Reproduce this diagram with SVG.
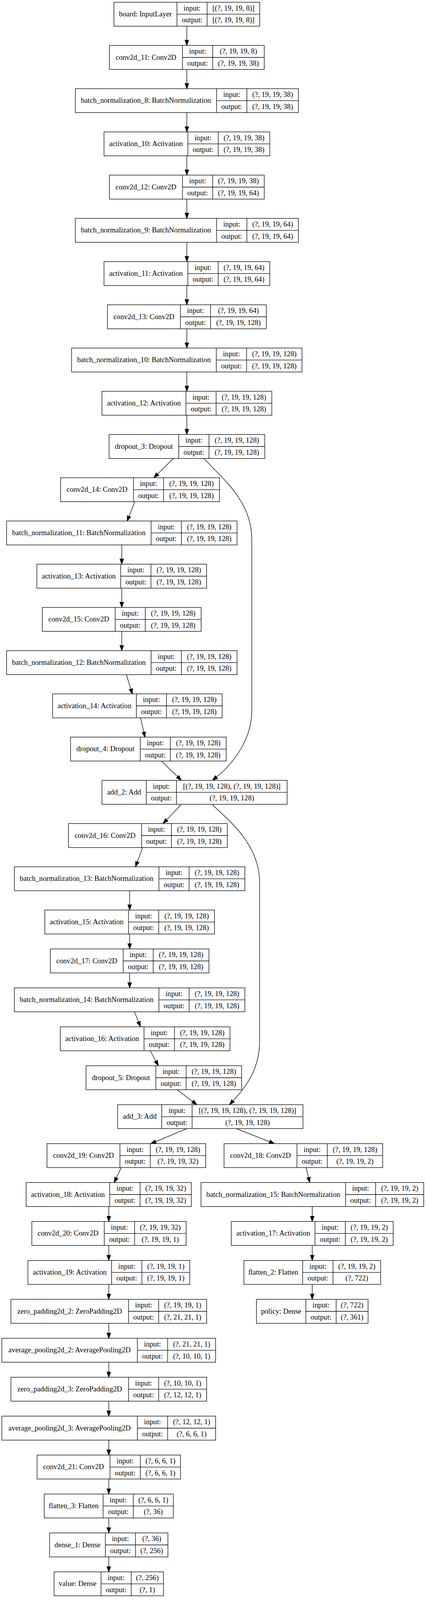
<svg xmlns="http://www.w3.org/2000/svg" width="1091" height="4279" viewBox="0 0 1091 4279">
<defs>
<style>
.b{fill:#fff;stroke:#000;stroke-width:1.33}
.l{stroke:#000;stroke-width:1.33;fill:none}
text{font-family:"Liberation Serif","Times New Roman",serif;font-size:18.67px;text-anchor:middle;fill:#000}
.e{fill:none;stroke:#000;stroke-width:1.33;marker-end:url(#ah)}
</style>
<marker id="ah" markerUnits="userSpaceOnUse" markerWidth="14" markerHeight="10" refX="0" refY="4.67" orient="auto" overflow="visible"><path d="M0,0 L13.33,4.67 L0,9.33 z" fill="#000" stroke="#000" stroke-width="1.33"/></marker>
</defs>
<rect x="0" y="0" width="1091" height="4279" fill="#fff"/>
<g id="connectors">
<path class="e" d="M478.5,67 L478.5,103"/>
<path class="e" d="M478.5,177.67 L478.5,213.67"/>
<path class="e" d="M478.5,288.33 L478.5,324.33"/>
<path class="e" d="M478.5,399 L478.5,435"/>
<path class="e" d="M478.5,509.67 L478.5,545.67"/>
<path class="e" d="M478.5,620.33 L478.5,656.33"/>
<path class="e" d="M478.5,731 L478.5,767"/>
<path class="e" d="M478.5,841.67 L478.5,877.67"/>
<path class="e" d="M478.5,952.33 L478.5,988.33"/>
<path class="e" d="M478.5,1063 L478.5,1099"/>
<path class="e" d="M443.8,1173.67 L403.5,1213.6"/>
<path class="e" d="M345.1,1284.33 L330.4,1321.9"/>
<path class="e" d="M311.8,1395 L311.8,1431"/>
<path class="e" d="M311.8,1505.67 L311.8,1541.67"/>
<path class="e" d="M311.8,1616.33 L311.8,1652.33"/>
<path class="e" d="M323.6,1727 L335,1764"/>
<path class="e" d="M360,1837.67 L368.25,1874.3"/>
<path class="e" d="M413.5,1948.33 L454.95,1988.4"/>
<path class="e" d="M522.5,1173.67 C565,1222 644.8,1280 644.8,1380 L644.8,1820 C644.8,1890 601,1951.6 554.4,1989.3"/>
<path class="e" d="M464.5,2059 L426.7,2098.65"/>
<path class="e" d="M365.2,2169.67 L351.6,2206.5"/>
<path class="e" d="M332,2280.33 L332,2316.33"/>
<path class="e" d="M332,2391 L332,2416"/>
<path class="e" d="M332,2490.67 L332,2515.67"/>
<path class="e" d="M344.3,2590.33 L354.87,2616.32"/>
<path class="e" d="M385,2690 L399.14,2716.56"/>
<path class="e" d="M453.8,2789.67 L493.4,2819.91"/>
<path class="e" d="M543,2059 C585,2100 664.9,2160 664.9,2260 L664.9,2665 C664.9,2735 631.1,2781.9 596.8,2818.3"/>
<path class="e" d="M478.6,2889.33 L398.51,2922.56"/>
<path class="e" d="M605.8,2889.33 L690.5,2922.78"/>
<path class="e" d="M310.5,2989 L298.09,3015.28"/>
<path class="e" d="M783.9,2989 L790.12,3014.38"/>
<path class="e" d="M278.6,3088.67 L278.6,3113.67"/>
<path class="e" d="M799.6,3088.67 L799.6,3113.67"/>
<path class="e" d="M278.6,3188.33 L278.6,3213.33"/>
<path class="e" d="M799.6,3188.33 L799.6,3213.33"/>
<path class="e" d="M278.6,3288 L278.6,3313"/>
<path class="e" d="M799.6,3288 L799.6,3313"/>
<path class="e" d="M278.6,3387.67 L278.6,3412.67"/>
<path class="e" d="M278.6,3487.33 L278.6,3512.33"/>
<path class="e" d="M278.6,3587 L278.6,3612"/>
<path class="e" d="M278.6,3686.67 L278.6,3711.67"/>
<path class="e" d="M278.6,3786.33 L278.6,3811.33"/>
<path class="e" d="M278.6,3886 L278.6,3911"/>
<path class="e" d="M278.6,3985.67 L278.6,4010.67"/>
</g>
<g id="board" transform="translate(0,5.67)">
<rect class="b" x="291.7" y="0" width="373.5" height="61.33"/>
<path class="l" d="M453.2,0V61.33M530.5,0V61.33M453.2,30.67H665.2"/>
<text x="372.45" y="36.3">board: InputLayer</text>
<text x="491.85" y="21">input:</text><text x="491.85" y="51.7">output:</text>
<text x="597.85" y="21">[(?, 19, 19, 8)]</text><text x="597.85" y="51.7">[(?, 19, 19, 8)]</text>
</g>
<g id="conv2d_11" transform="translate(0,116.33)">
<rect class="b" x="280.2" y="0" width="396.5" height="61.33"/>
<path class="l" d="M467.4,0V61.33M544.7,0V61.33M467.4,30.67H676.7"/>
<text x="373.8" y="36.3">conv2d_11: Conv2D</text>
<text x="506.05" y="21">input:</text><text x="506.05" y="51.7">output:</text>
<text x="610.7" y="21">(?, 19, 19, 8)</text><text x="610.7" y="51.7">(?, 19, 19, 38)</text>
</g>
<g id="batch_normalization_8" transform="translate(0,227)">
<rect class="b" x="193" y="0" width="571.3" height="61.33"/>
<path class="l" d="M554.6,0V61.33M632.3,0V61.33M554.6,30.67H764.3"/>
<text x="373.8" y="36.3">batch_normalization_8: BatchNormalization</text>
<text x="593.45" y="21">input:</text><text x="593.45" y="51.7">output:</text>
<text x="698.3" y="21">(?, 19, 19, 38)</text><text x="698.3" y="51.7">(?, 19, 19, 38)</text>
</g>
<g id="activation_10" transform="translate(0,337.67)">
<rect class="b" x="266.4" y="0" width="424.5" height="61.33"/>
<path class="l" d="M481.1,0V61.33M558.8,0V61.33M481.1,30.67H690.9"/>
<text x="373.75" y="36.3">activation_10: Activation</text>
<text x="519.95" y="21">input:</text><text x="519.95" y="51.7">output:</text>
<text x="624.85" y="21">(?, 19, 19, 38)</text><text x="624.85" y="51.7">(?, 19, 19, 38)</text>
</g>
<g id="conv2d_12" transform="translate(0,448.33)">
<rect class="b" x="280.2" y="0" width="396.5" height="61.33"/>
<path class="l" d="M467.4,0V61.33M544.7,0V61.33M467.4,30.67H676.7"/>
<text x="373.8" y="36.3">conv2d_12: Conv2D</text>
<text x="506.05" y="21">input:</text><text x="506.05" y="51.7">output:</text>
<text x="610.7" y="21">(?, 19, 19, 38)</text><text x="610.7" y="51.7">(?, 19, 19, 64)</text>
</g>
<g id="batch_normalization_9" transform="translate(0,559)">
<rect class="b" x="193" y="0" width="571.3" height="61.33"/>
<path class="l" d="M554.6,0V61.33M632.3,0V61.33M554.6,30.67H764.3"/>
<text x="373.8" y="36.3">batch_normalization_9: BatchNormalization</text>
<text x="593.45" y="21">input:</text><text x="593.45" y="51.7">output:</text>
<text x="698.3" y="21">(?, 19, 19, 64)</text><text x="698.3" y="51.7">(?, 19, 19, 64)</text>
</g>
<g id="activation_11" transform="translate(0,669.67)">
<rect class="b" x="266.4" y="0" width="424.5" height="61.33"/>
<path class="l" d="M481.1,0V61.33M558.8,0V61.33M481.1,30.67H690.9"/>
<text x="373.75" y="36.3">activation_11: Activation</text>
<text x="519.95" y="21">input:</text><text x="519.95" y="51.7">output:</text>
<text x="624.85" y="21">(?, 19, 19, 64)</text><text x="624.85" y="51.7">(?, 19, 19, 64)</text>
</g>
<g id="conv2d_13" transform="translate(0,780.33)">
<rect class="b" x="275.2" y="0" width="406.8" height="61.33"/>
<path class="l" d="M462,0V61.33M539.3,0V61.33M462,30.67H682"/>
<text x="368.6" y="36.3">conv2d_13: Conv2D</text>
<text x="500.65" y="21">input:</text><text x="500.65" y="51.7">output:</text>
<text x="610.65" y="21">(?, 19, 19, 64)</text><text x="610.65" y="51.7">(?, 19, 19, 128)</text>
</g>
<g id="batch_normalization_10" transform="translate(0,891)">
<rect class="b" x="183.4" y="0" width="590" height="61.33"/>
<path class="l" d="M553.9,0V61.33M631.5,0V61.33M553.9,30.67H773.4"/>
<text x="368.65" y="36.3">batch_normalization_10: BatchNormalization</text>
<text x="592.7" y="21">input:</text><text x="592.7" y="51.7">output:</text>
<text x="702.45" y="21">(?, 19, 19, 128)</text><text x="702.45" y="51.7">(?, 19, 19, 128)</text>
</g>
<g id="activation_12" transform="translate(0,1001.67)">
<rect class="b" x="261.1" y="0" width="435.1" height="61.33"/>
<path class="l" d="M476.2,0V61.33M553.5,0V61.33M476.2,30.67H696.2"/>
<text x="368.65" y="36.3">activation_12: Activation</text>
<text x="514.85" y="21">input:</text><text x="514.85" y="51.7">output:</text>
<text x="624.85" y="21">(?, 19, 19, 128)</text><text x="624.85" y="51.7">(?, 19, 19, 128)</text>
</g>
<g id="dropout_3" transform="translate(0,1112.33)">
<rect class="b" x="279.4" y="0" width="398.7" height="61.33"/>
<path class="l" d="M457.8,0V61.33M535.3,0V61.33M457.8,30.67H678.1"/>
<text x="368.6" y="36.3">dropout_3: Dropout</text>
<text x="496.55" y="21">input:</text><text x="496.55" y="51.7">output:</text>
<text x="606.7" y="21">(?, 19, 19, 128)</text><text x="606.7" y="51.7">(?, 19, 19, 128)</text>
</g>
<g id="conv2d_14" transform="translate(0,1223)">
<rect class="b" x="155.3" y="0" width="406.6" height="61.33"/>
<path class="l" d="M341.8,0V61.33M418.9,0V61.33M341.8,30.67H561.9"/>
<text x="248.55" y="36.3">conv2d_14: Conv2D</text>
<text x="380.35" y="21">input:</text><text x="380.35" y="51.7">output:</text>
<text x="490.4" y="21">(?, 19, 19, 128)</text><text x="490.4" y="51.7">(?, 19, 19, 128)</text>
</g>
<g id="batch_normalization_11" transform="translate(0,1333.67)">
<rect class="b" x="16.8" y="0" width="590.3" height="61.33"/>
<path class="l" d="M387,0V61.33M464.5,0V61.33M387,30.67H607.1"/>
<text x="201.9" y="36.3">batch_normalization_11: BatchNormalization</text>
<text x="425.75" y="21">input:</text><text x="425.75" y="51.7">output:</text>
<text x="535.8" y="21">(?, 19, 19, 128)</text><text x="535.8" y="51.7">(?, 19, 19, 128)</text>
</g>
<g id="activation_13" transform="translate(0,1444.33)">
<rect class="b" x="94.4" y="0" width="434.8" height="61.33"/>
<path class="l" d="M309.1,0V61.33M386.6,0V61.33M309.1,30.67H529.2"/>
<text x="201.75" y="36.3">activation_13: Activation</text>
<text x="347.85" y="21">input:</text><text x="347.85" y="51.7">output:</text>
<text x="457.9" y="21">(?, 19, 19, 128)</text><text x="457.9" y="51.7">(?, 19, 19, 128)</text>
</g>
<g id="conv2d_15" transform="translate(0,1555)">
<rect class="b" x="108.4" y="0" width="406.7" height="61.33"/>
<path class="l" d="M295,0V61.33M372.1,0V61.33M295,30.67H515.1"/>
<text x="201.7" y="36.3">conv2d_15: Conv2D</text>
<text x="333.55" y="21">input:</text><text x="333.55" y="51.7">output:</text>
<text x="443.6" y="21">(?, 19, 19, 128)</text><text x="443.6" y="51.7">(?, 19, 19, 128)</text>
</g>
<g id="batch_normalization_12" transform="translate(0,1665.67)">
<rect class="b" x="16.8" y="0" width="590.3" height="61.33"/>
<path class="l" d="M387,0V61.33M464.5,0V61.33M387,30.67H607.1"/>
<text x="201.9" y="36.3">batch_normalization_12: BatchNormalization</text>
<text x="425.75" y="21">input:</text><text x="425.75" y="51.7">output:</text>
<text x="535.8" y="21">(?, 19, 19, 128)</text><text x="535.8" y="51.7">(?, 19, 19, 128)</text>
</g>
<g id="activation_14" transform="translate(0,1776.33)">
<rect class="b" x="134.6" y="0" width="434.4" height="61.33"/>
<path class="l" d="M349.3,0V61.33M426.4,0V61.33M349.3,30.67H569"/>
<text x="241.95" y="36.3">activation_14: Activation</text>
<text x="387.85" y="21">input:</text><text x="387.85" y="51.7">output:</text>
<text x="497.7" y="21">(?, 19, 19, 128)</text><text x="497.7" y="51.7">(?, 19, 19, 128)</text>
</g>
<g id="dropout_4" transform="translate(0,1887)">
<rect class="b" x="180.6" y="0" width="398.7" height="61.33"/>
<path class="l" d="M359.2,0V61.33M436.3,0V61.33M359.2,30.67H579.3"/>
<text x="269.9" y="36.3">dropout_4: Dropout</text>
<text x="397.75" y="21">input:</text><text x="397.75" y="51.7">output:</text>
<text x="507.8" y="21">(?, 19, 19, 128)</text><text x="507.8" y="51.7">(?, 19, 19, 128)</text>
</g>
<g id="add_2" transform="translate(0,1997.67)">
<rect class="b" x="261.1" y="0" width="474.3" height="61.33"/>
<path class="l" d="M374.6,0V61.33M452,0V61.33M374.6,30.67H735.4"/>
<text x="317.85" y="36.3">add_2: Add</text>
<text x="413.3" y="21">input:</text><text x="413.3" y="51.7">output:</text>
<text x="593.7" y="21">[(?, 19, 19, 128), (?, 19, 19, 128)]</text><text x="593.7" y="51.7">(?, 19, 19, 128)</text>
</g>
<g id="conv2d_16" transform="translate(0,2108.33)">
<rect class="b" x="175.3" y="0" width="406.9" height="61.33"/>
<path class="l" d="M362.6,0V61.33M438.9,0V61.33M362.6,30.67H582.2"/>
<text x="268.95" y="36.3">conv2d_16: Conv2D</text>
<text x="400.75" y="21">input:</text><text x="400.75" y="51.7">output:</text>
<text x="510.55" y="21">(?, 19, 19, 128)</text><text x="510.55" y="51.7">(?, 19, 19, 128)</text>
</g>
<g id="batch_normalization_13" transform="translate(0,2219)">
<rect class="b" x="36.7" y="0" width="590.5" height="61.33"/>
<path class="l" d="M407,0V61.33M484.4,0V61.33M407,30.67H627.2"/>
<text x="221.85" y="36.3">batch_normalization_13: BatchNormalization</text>
<text x="445.7" y="21">input:</text><text x="445.7" y="51.7">output:</text>
<text x="555.8" y="21">(?, 19, 19, 128)</text><text x="555.8" y="51.7">(?, 19, 19, 128)</text>
</g>
<g id="activation_15" transform="translate(0,2329.67)">
<rect class="b" x="114.7" y="0" width="434.6" height="61.33"/>
<path class="l" d="M329.1,0V61.33M406.5,0V61.33M329.1,30.67H549.3"/>
<text x="221.9" y="36.3">activation_15: Activation</text>
<text x="367.8" y="21">input:</text><text x="367.8" y="51.7">output:</text>
<text x="477.9" y="21">(?, 19, 19, 128)</text><text x="477.9" y="51.7">(?, 19, 19, 128)</text>
</g>
<g id="conv2d_17" transform="translate(0,2429.33)">
<rect class="b" x="128.8" y="0" width="406.3" height="61.33"/>
<path class="l" d="M315.5,0V61.33M392.4,0V61.33M315.5,30.67H535.1"/>
<text x="222.15" y="36.3">conv2d_17: Conv2D</text>
<text x="353.95" y="21">input:</text><text x="353.95" y="51.7">output:</text>
<text x="463.75" y="21">(?, 19, 19, 128)</text><text x="463.75" y="51.7">(?, 19, 19, 128)</text>
</g>
<g id="batch_normalization_14" transform="translate(0,2529)">
<rect class="b" x="36.7" y="0" width="590.5" height="61.33"/>
<path class="l" d="M407,0V61.33M484.4,0V61.33M407,30.67H627.2"/>
<text x="221.85" y="36.3">batch_normalization_14: BatchNormalization</text>
<text x="445.7" y="21">input:</text><text x="445.7" y="51.7">output:</text>
<text x="555.8" y="21">(?, 19, 19, 128)</text><text x="555.8" y="51.7">(?, 19, 19, 128)</text>
</g>
<g id="activation_16" transform="translate(0,2628.67)">
<rect class="b" x="154.4" y="0" width="434.6" height="61.33"/>
<path class="l" d="M368.8,0V61.33M446.8,0V61.33M368.8,30.67H589"/>
<text x="261.6" y="36.3">activation_16: Activation</text>
<text x="407.8" y="21">input:</text><text x="407.8" y="51.7">output:</text>
<text x="517.9" y="21">(?, 19, 19, 128)</text><text x="517.9" y="51.7">(?, 19, 19, 128)</text>
</g>
<g id="dropout_5" transform="translate(0,2728.33)">
<rect class="b" x="220.3" y="0" width="398.5" height="61.33"/>
<path class="l" d="M399.2,0V61.33M476.6,0V61.33M399.2,30.67H618.8"/>
<text x="309.75" y="36.3">dropout_5: Dropout</text>
<text x="437.9" y="21">input:</text><text x="437.9" y="51.7">output:</text>
<text x="547.7" y="21">(?, 19, 19, 128)</text><text x="547.7" y="51.7">(?, 19, 19, 128)</text>
</g>
<g id="add_3" transform="translate(0,2828)">
<rect class="b" x="301.1" y="0" width="474.8" height="61.33"/>
<path class="l" d="M414.3,0V61.33M492,0V61.33M414.3,30.67H775.9"/>
<text x="357.7" y="36.3">add_3: Add</text>
<text x="453.15" y="21">input:</text><text x="453.15" y="51.7">output:</text>
<text x="633.95" y="21">[(?, 19, 19, 128), (?, 19, 19, 128)]</text><text x="633.95" y="51.7">(?, 19, 19, 128)</text>
</g>
<g id="conv2d_19" transform="translate(0,2927.67)">
<rect class="b" x="120.4" y="0" width="406.4" height="61.33"/>
<path class="l" d="M307.2,0V61.33M384.8,0V61.33M307.2,30.67H526.8"/>
<text x="213.8" y="36.3">conv2d_19: Conv2D</text>
<text x="346" y="21">input:</text><text x="346" y="51.7">output:</text>
<text x="455.8" y="21">(?, 19, 19, 128)</text><text x="455.8" y="51.7">(?, 19, 19, 32)</text>
</g>
<g id="conv2d_18" transform="translate(0,2927.67)">
<rect class="b" x="573.7" y="0" width="406.4" height="61.33"/>
<path class="l" d="M760.5,0V61.33M838.2,0V61.33M760.5,30.67H980.1"/>
<text x="667.1" y="36.3">conv2d_18: Conv2D</text>
<text x="799.35" y="21">input:</text><text x="799.35" y="51.7">output:</text>
<text x="909.15" y="21">(?, 19, 19, 128)</text><text x="909.15" y="51.7">(?, 19, 19, 2)</text>
</g>
<g id="activation_18" transform="translate(0,3027.33)">
<rect class="b" x="66.8" y="0" width="423.2" height="61.33"/>
<path class="l" d="M281,0V61.33M358.7,0V61.33M281,30.67H490"/>
<text x="173.9" y="36.3">activation_18: Activation</text>
<text x="319.85" y="21">input:</text><text x="319.85" y="51.7">output:</text>
<text x="424.35" y="21">(?, 19, 19, 32)</text><text x="424.35" y="51.7">(?, 19, 19, 32)</text>
</g>
<g id="batch_normalization_15" transform="translate(0,3027.33)">
<rect class="b" x="514.7" y="0" width="570.5" height="61.33"/>
<path class="l" d="M885,0V61.33M962,0V61.33M885,30.67H1085.2"/>
<text x="699.85" y="36.3">batch_normalization_15: BatchNormalization</text>
<text x="923.5" y="21">input:</text><text x="923.5" y="51.7">output:</text>
<text x="1023.6" y="21">(?, 19, 19, 2)</text><text x="1023.6" y="51.7">(?, 19, 19, 2)</text>
</g>
<g id="conv2d_20" transform="translate(0,3127)">
<rect class="b" x="81.5" y="0" width="395.1" height="61.33"/>
<path class="l" d="M267,0V61.33M344.7,0V61.33M267,30.67H476.6"/>
<text x="174.25" y="36.3">conv2d_20: Conv2D</text>
<text x="305.85" y="21">input:</text><text x="305.85" y="51.7">output:</text>
<text x="410.65" y="21">(?, 19, 19, 32)</text><text x="410.65" y="51.7">(?, 19, 19, 1)</text>
</g>
<g id="activation_17" transform="translate(0,3127)">
<rect class="b" x="592.4" y="0" width="414.5" height="61.33"/>
<path class="l" d="M806.7,0V61.33M884.4,0V61.33M806.7,30.67H1006.9"/>
<text x="699.55" y="36.3">activation_17: Activation</text>
<text x="845.55" y="21">input:</text><text x="845.55" y="51.7">output:</text>
<text x="945.65" y="21">(?, 19, 19, 2)</text><text x="945.65" y="51.7">(?, 19, 19, 2)</text>
</g>
<g id="activation_19" transform="translate(0,3226.67)">
<rect class="b" x="71.5" y="0" width="414.5" height="61.33"/>
<path class="l" d="M285.7,0V61.33M363.4,0V61.33M285.7,30.67H486"/>
<text x="178.6" y="36.3">activation_19: Activation</text>
<text x="324.55" y="21">input:</text><text x="324.55" y="51.7">output:</text>
<text x="424.7" y="21">(?, 19, 19, 1)</text><text x="424.7" y="51.7">(?, 19, 19, 1)</text>
</g>
<g id="flatten_2" transform="translate(0,3226.67)">
<rect class="b" x="624.6" y="0" width="350.2" height="61.33"/>
<path class="l" d="M775.2,0V61.33M852.9,0V61.33M775.2,30.67H974.8"/>
<text x="699.9" y="36.3">flatten_2: Flatten</text>
<text x="814.05" y="21">input:</text><text x="814.05" y="51.7">output:</text>
<text x="913.85" y="21">(?, 19, 19, 2)</text><text x="913.85" y="51.7">(?, 722)</text>
</g>
<g id="zero_padding2d_2" transform="translate(0,3326.33)">
<rect class="b" x="27.9" y="0" width="501.4" height="61.33"/>
<path class="l" d="M329.1,0V61.33M406.4,0V61.33M329.1,30.67H529.3"/>
<text x="178.5" y="36.3">zero_padding2d_2: ZeroPadding2D</text>
<text x="367.75" y="21">input:</text><text x="367.75" y="51.7">output:</text>
<text x="467.85" y="21">(?, 19, 19, 1)</text><text x="467.85" y="51.7">(?, 21, 21, 1)</text>
</g>
<g id="policy" transform="translate(0,3326.33)">
<rect class="b" x="656.7" y="0" width="285.9" height="61.33"/>
<path class="l" d="M783.3,0V61.33M860.9,0V61.33M783.3,30.67H942.6"/>
<text x="720" y="36.3">policy: Dense</text>
<text x="822.1" y="21">input:</text><text x="822.1" y="51.7">output:</text>
<text x="901.75" y="21">(?, 722)</text><text x="901.75" y="51.7">(?, 361)</text>
</g>
<g id="average_pooling2d_2" transform="translate(0,3426)">
<rect class="b" x="4.6" y="0" width="547.6" height="61.33"/>
<path class="l" d="M351.7,0V61.33M429.4,0V61.33M351.7,30.67H552.2"/>
<text x="178.15" y="36.3">average_pooling2d_2: AveragePooling2D</text>
<text x="390.55" y="21">input:</text><text x="390.55" y="51.7">output:</text>
<text x="490.8" y="21">(?, 21, 21, 1)</text><text x="490.8" y="51.7">(?, 10, 10, 1)</text>
</g>
<g id="zero_padding2d_3" transform="translate(0,3525.67)">
<rect class="b" x="27.9" y="0" width="501.4" height="61.33"/>
<path class="l" d="M329.1,0V61.33M406.4,0V61.33M329.1,30.67H529.3"/>
<text x="178.5" y="36.3">zero_padding2d_3: ZeroPadding2D</text>
<text x="367.75" y="21">input:</text><text x="367.75" y="51.7">output:</text>
<text x="467.85" y="21">(?, 10, 10, 1)</text><text x="467.85" y="51.7">(?, 12, 12, 1)</text>
</g>
<g id="average_pooling2d_3" transform="translate(0,3625.33)">
<rect class="b" x="4.6" y="0" width="547.6" height="61.33"/>
<path class="l" d="M351.7,0V61.33M429.4,0V61.33M351.7,30.67H552.2"/>
<text x="178.15" y="36.3">average_pooling2d_3: AveragePooling2D</text>
<text x="390.55" y="21">input:</text><text x="390.55" y="51.7">output:</text>
<text x="490.8" y="21">(?, 12, 12, 1)</text><text x="490.8" y="51.7">(?, 6, 6, 1)</text>
</g>
<g id="conv2d_21" transform="translate(0,3725)">
<rect class="b" x="94.9" y="0" width="367.4" height="61.33"/>
<path class="l" d="M281.7,0V61.33M359.4,0V61.33M281.7,30.67H462.3"/>
<text x="188.3" y="36.3">conv2d_21: Conv2D</text>
<text x="320.55" y="21">input:</text><text x="320.55" y="51.7">output:</text>
<text x="410.85" y="21">(?, 6, 6, 1)</text><text x="410.85" y="51.7">(?, 6, 6, 1)</text>
</g>
<g id="flatten_3" transform="translate(0,3824.67)">
<rect class="b" x="113.3" y="0" width="330.6" height="61.33"/>
<path class="l" d="M264,0V61.33M341.4,0V61.33M264,30.67H443.9"/>
<text x="188.65" y="36.3">flatten_3: Flatten</text>
<text x="302.7" y="21">input:</text><text x="302.7" y="51.7">output:</text>
<text x="392.65" y="21">(?, 6, 6, 1)</text><text x="392.65" y="51.7">(?, 36)</text>
</g>
<g id="dense_1" transform="translate(0,3924.33)">
<rect class="b" x="127" y="0" width="303.1" height="61.33"/>
<path class="l" d="M269.8,0V61.33M347.1,0V61.33M269.8,30.67H430.1"/>
<text x="198.4" y="36.3">dense_1: Dense</text>
<text x="308.45" y="21">input:</text><text x="308.45" y="51.7">output:</text>
<text x="388.6" y="21">(?, 36)</text><text x="388.6" y="51.7">(?, 256)</text>
</g>
<g id="value" transform="translate(0,4024)">
<rect class="b" x="138.5" y="0" width="280.2" height="61.33"/>
<path class="l" d="M258.7,0V61.33M336,0V61.33M258.7,30.67H418.7"/>
<text x="198.6" y="36.3">value: Dense</text>
<text x="297.35" y="21">input:</text><text x="297.35" y="51.7">output:</text>
<text x="377.35" y="21">(?, 256)</text><text x="377.35" y="51.7">(?, 1)</text>
</g>
</svg>
